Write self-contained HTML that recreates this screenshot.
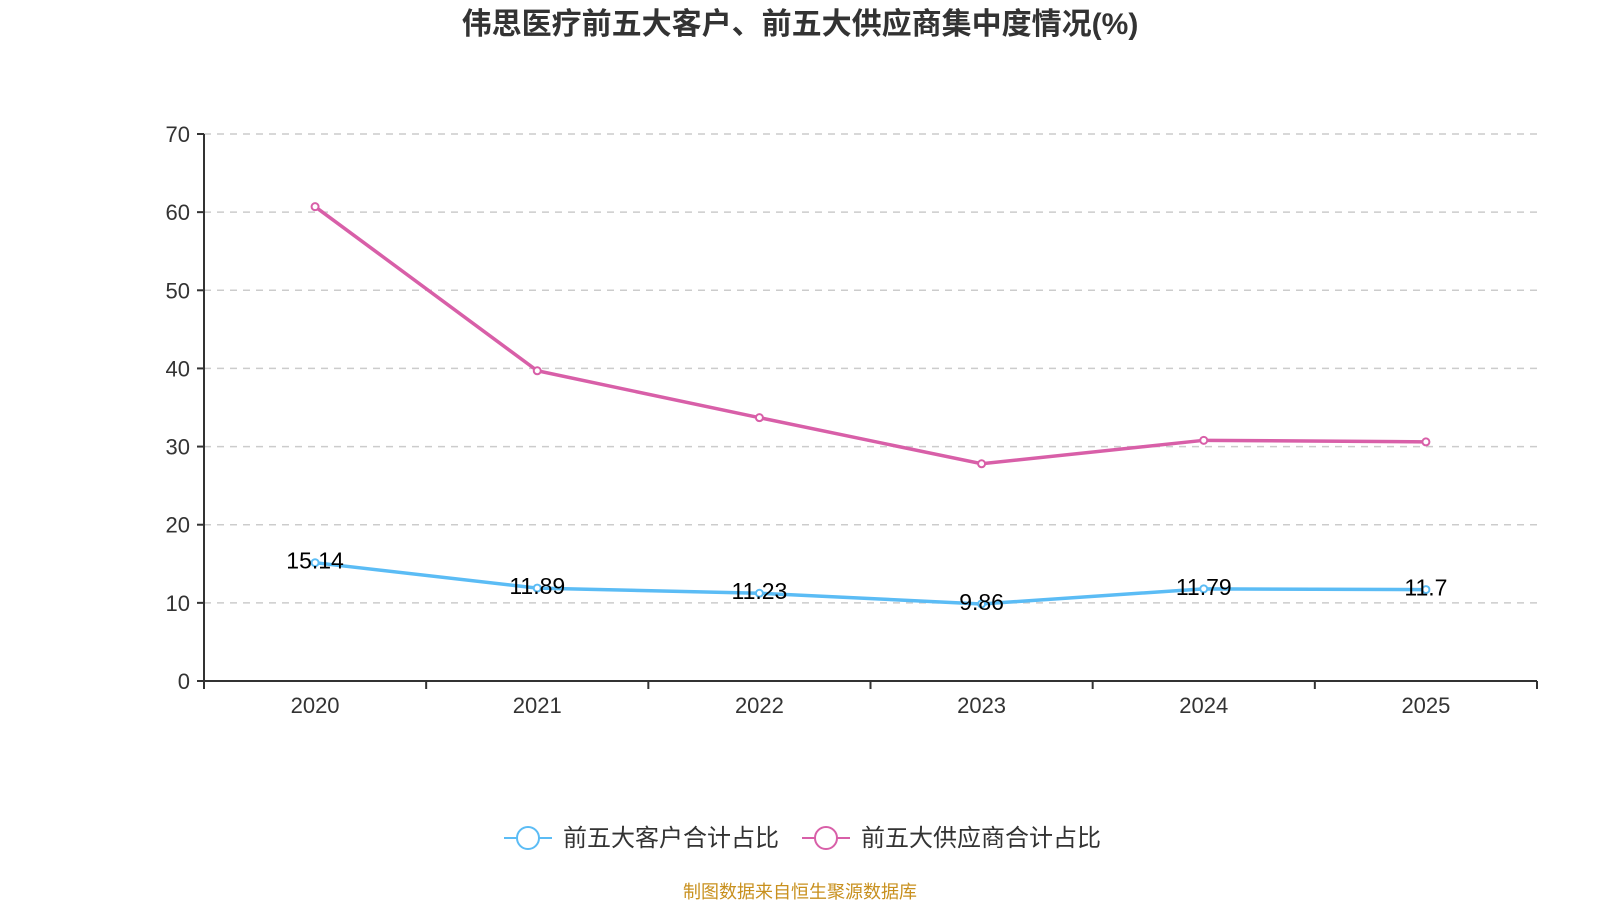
<!DOCTYPE html>
<html><head><meta charset="utf-8"><style>
body{margin:0;background:#fff}
svg{display:block;font-family:"Liberation Sans","Noto Sans CJK SC",sans-serif}
</style></head><body>
<svg id="c" width="1600" height="900">
<text x="800" y="34" text-anchor="middle" font-size="30" font-weight="bold" fill="#333">伟思医疗前五大客户、前五大供应商集中度情况(%)</text>
<g id="grid"></g><g id="axes"></g><g id="series"></g>
<g>
<g>
<line x1="504" y1="838" x2="552" y2="838" stroke="#5bbcf5" stroke-width="2"/>
<circle cx="528" cy="838" r="11" fill="#fff" stroke="#5bbcf5" stroke-width="2"/>
<text x="563" y="846" font-size="24" fill="#333">前五大客户合计占比</text></g>
<g>
<line x1="802" y1="838" x2="850" y2="838" stroke="#d85fa8" stroke-width="2"/>
<circle cx="826" cy="838" r="11" fill="#fff" stroke="#d85fa8" stroke-width="2"/>
<text x="861" y="846" font-size="24" fill="#333">前五大供应商合计占比</text></g>
</g>
<text x="800" y="898" text-anchor="middle" font-size="18" fill="#c8901e">制图数据来自恒生聚源数据库</text>
</svg>
<script>
const categories=["2020","2021","2022","2023","2024","2025"];
const customers=[15.14,11.89,11.23,9.86,11.79,11.7];
const suppliers=[60.7,39.7,33.7,27.8,30.8,30.6];
const yTicks=[0,10,20,30,40,50,60,70];
const NS="http://www.w3.org/2000/svg";
const X0=204,X1=1537,Y0=681,Y1=134,YMAX=70;
const bw=(X1-X0)/categories.length;
const xs=i=>X0+bw*(i+0.5);
const ys=v=>Y0-(v/YMAX)*(Y0-Y1);
function mk(t,a,p){const e=document.createElementNS(NS,t);for(const k in a)e.setAttribute(k,a[k]);p.appendChild(e);return e;}
const grid=document.getElementById('grid'),axes=document.getElementById('axes'),ser=document.getElementById('series');
yTicks.forEach(v=>{
  if(v>0){const g=mk('line',{x1:X0,x2:X1,y1:ys(v),y2:ys(v),stroke:'#ccc','stroke-width':1.5,'stroke-dasharray':'7,6'},grid);
  
  }
  const tk=mk('line',{x1:X0-7,x2:X0,y1:ys(v),y2:ys(v),stroke:'#333','stroke-width':2},axes);
  
  
  const t=mk('text',{x:X0-14,y:ys(v)+8,'text-anchor':'end','font-size':22,fill:'#333'},axes);t.textContent=v;
  
  
});
const ya=mk('line',{x1:X0,x2:X0,y1:Y1,y2:Y0,stroke:'#333','stroke-width':2},axes);


const xa=mk('line',{x1:X0,x2:X1,y1:Y0,y2:Y0,stroke:'#333','stroke-width':2},axes);


for(let i=0;i<=categories.length;i++){const t=mk('line',{x1:X0+bw*i,x2:X0+bw*i,y1:Y0,y2:Y0+8,stroke:'#333','stroke-width':2},axes);

}
categories.forEach((c,i)=>{const t=mk('text',{x:xs(i),y:Y0+32,'text-anchor':'middle','font-size':22,fill:'#333'},axes);t.textContent=c;

});
function series(vals,color,name,labels){
  const p=mk('polyline',{points:vals.map((v,i)=>xs(i)+','+ys(v)).join(' '),fill:'none',stroke:color,'stroke-width':3.5},ser);
  
  
  vals.forEach((v,i)=>{
    const c=mk('circle',{cx:xs(i),cy:ys(v),r:3.5,fill:'#fff',stroke:color,'stroke-width':2},ser);
    
    
    if(labels){const t=mk('text',{x:xs(i),y:ys(v)+6,'text-anchor':'middle','font-size':23,fill:'#000'},ser);t.textContent=v;
    
    }
  });
}
series(suppliers,'#d85fa8','suppliers',false);
series(customers,'#5bbcf5','customers',true);
</script>
</body></html>
